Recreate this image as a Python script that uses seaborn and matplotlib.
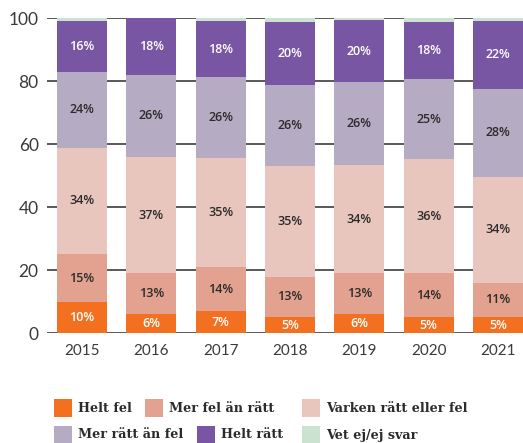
import matplotlib
matplotlib.use("Agg")
import matplotlib.pyplot as plt
from matplotlib.patches import Rectangle
import numpy as np
import seaborn as sns

# data (percent of respondents)
years = ["2015", "2016", "2017", "2018", "2019", "2020", "2021"]
categories = ["Helt fel", "Mer fel än rätt", "Varken rätt eller fel",
              "Mer rätt än fel", "Helt rätt", "Vet ej/ej svar"]
helt_fel = [9.9, 6.1, 7.1, 5.2, 6.1, 5.2, 5.2]
mer_fel = [15.3, 13.0, 13.9, 12.7, 13.0, 13.9, 10.8]
varken = [33.7, 36.9, 34.7, 35.2, 34.3, 36.2, 33.7]
mer_ratt = [24.2, 26.0, 25.7, 25.7, 26.4, 25.4, 27.9]
helt_ratt = [16.0, 18.0, 17.6, 20.0, 19.6, 18.1, 21.6]
vet_ej = [0.9, 0.0, 1.0, 1.2, 0.6, 1.2, 0.8]
y_ticks = [0, 20, 40, 60, 80, 100]

series = [helt_fel, mer_fel, varken, mer_ratt, helt_ratt, vet_ej]
colors = ["#F37021", "#E3A28F", "#E8C6BD", "#B5ABC3", "#7956A3", "#CBE2D1"]
label_colors = ["white", "#2B2B2B", "#2B2B2B", "#2B2B2B", "white", None]

sns.set_theme(style="white")
plt.rcParams["font.family"] = ["Lato", "DejaVu Sans"]

W, H = 523, 443
fig = plt.figure(figsize=(W / 100, H / 100), dpi=100)
ax = fig.add_axes([47 / W, (H - 333.3) / H, 476 / W, 315 / H])

x = np.arange(len(years))
bottom = np.zeros(len(years))
for vals, col, lcol in zip(series, colors, label_colors):
    vals = np.array(vals)
    ax.bar(x, vals, bottom=bottom, width=0.72, color=col, linewidth=0, zorder=2)
    if lcol is not None:
        for xi, b, v in zip(x, bottom, vals):
            ax.text(xi, b + v / 2, f"{v:.0f}%", ha="center", va="center",
                    fontsize=9, fontweight="semibold", color=lcol,
                    family=["Open Sans", "DejaVu Sans"], zorder=3)
    bottom += vals

ax.set_xlim(-0.505, 6.36)
ax.set_ylim(0, 100)
ax.set_yticks(y_ticks)
ax.set_xticks(x)
ax.set_xticklabels(years)
ax.yaxis.grid(True, color="#2B2B2B", linewidth=1.1, zorder=1)
ax.xaxis.grid(False)
ax.set_axisbelow(True)
for s in ax.spines.values():
    s.set_visible(False)
ax.tick_params(axis="y", length=0, pad=6, labelsize=12.5, labelcolor="#3A3A3A")
ax.tick_params(axis="x", length=0, pad=8, labelsize=11, labelcolor="#3A3A3A")

# legend laid out like the reference (two rows, irregular columns)
legend_pos = [(54, 408), (145, 408), (302, 408), (54, 435), (197, 435), (302, 435)]
for name, col, (px, py) in zip(categories, colors, legend_pos):
    fig.add_artist(Rectangle((px / W, (H - py - 9) / H), 18 / W, 18 / H,
                             transform=fig.transFigure, color=col, lw=0))
    fig.text((px + 24) / W, (H - py) / H, name, ha="left", va="center",
             fontsize=9.2, fontweight="bold", color="#2B2B2B",
             family=["DejaVu Serif"])

fig.savefig("out.png", dpi=100, facecolor="white")
